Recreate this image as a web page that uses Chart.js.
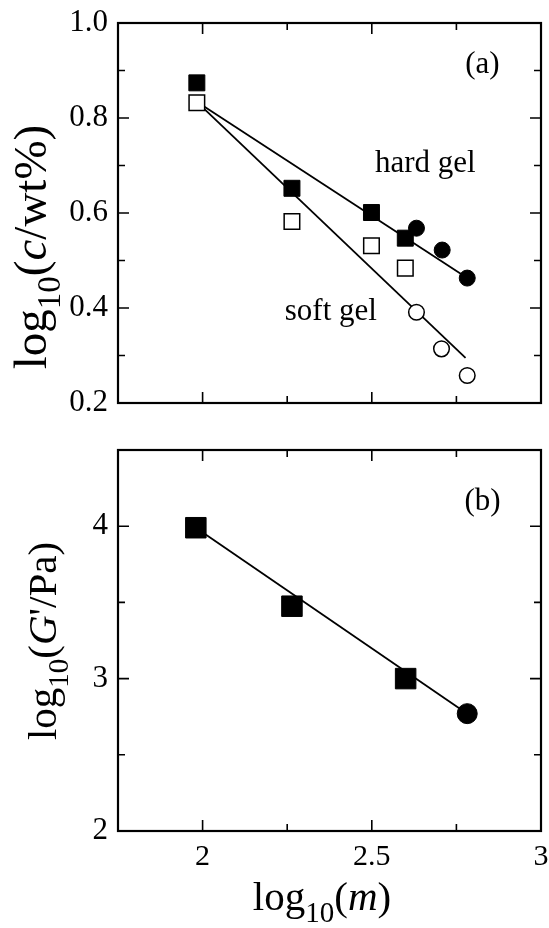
<!DOCTYPE html>
<html>
<head>
<meta charset="utf-8">
<script src="https://cdn.jsdelivr.net/npm/chart.js@4.4.0/dist/chart.umd.min.js"></script>
<style>
  html, body { margin: 0; padding: 0; background: #fff; }
  #wrap { position: relative; width: 549px; height: 928px; overflow: hidden; }
  canvas { position: absolute; left: 0; }
  #panelA { top: 0; }
  #panelB { top: 440px; }
</style>
</head>
<body>
<div id="wrap">
  <canvas id="panelA" width="549" height="440"></canvas>
  <canvas id="panelB" width="549" height="488"></canvas>
</div>
<script>
const SERIF = "'Liberation Serif', 'Times New Roman', serif"

// panel (a): log10(c/wt%) against log10(m)
const hardSquareX = [1.983, 2.264, 2.499, 2.599]
const hardSquareY = [0.874, 0.652, 0.601, 0.547]
const hardCircleX = [2.632, 2.708, 2.782]
const hardCircleY = [0.568, 0.522, 0.463]
const softSquareX = [1.983, 2.264, 2.499, 2.599]
const softSquareY = [0.832, 0.582, 0.531, 0.484]
const softCircleX = [2.632, 2.706, 2.782]
const softCircleY = [0.391, 0.314, 0.258]
const hardFitX = [1.983, 2.782]
const hardFitY = [0.834, 0.463]
const softFitX = [1.983, 2.777]
const softFitY = [0.834, 0.295]

// panel (b): log10(G'/Pa) against log10(m)
const modSquareX = [1.980, 2.264, 2.600]
const modSquareY = [3.99, 3.475, 3.00]
const modCircleX = [2.782]
const modCircleY = [2.77]
const modFitX = [1.980, 2.782]
const modFitY = [3.99, 2.77]

// ticks
const xTicks = [2, 2.25, 2.5, 2.75, 3]
const xTickLabels = ['2', '', '2.5', '', '3']
const yTicksA = [0.2, 0.3, 0.4, 0.5, 0.6, 0.7, 0.8, 0.9, 1.0]
const yTickLabelsA = ['0.2', '', '0.4', '', '0.6', '', '0.8', '', '1.0']
const yTicksB = [2, 2.5, 3, 3.5, 4, 4.5]
const yTickLabelsB = ['2', '', '3', '', '4', '']

const pts = (xs, ys) => xs.map((x, i) => ({x: x, y: ys[i]}))

function markers(xs, ys, style, r, filled) {
	return {
		data: pts(xs, ys),
		pointStyle: style,
		pointRadius: r,
		pointHoverRadius: r,
		pointBackgroundColor: filled ? '#000' : '#fff',
		pointBorderColor: '#000',
		pointBorderWidth: filled ? 1 : 1.5,
		order: 1
	}
}

function fit(xs, ys) {
	return {
		data: pts(xs, ys),
		showLine: true,
		borderColor: '#000',
		borderWidth: 1.8,
		pointRadius: 0,
		order: 2
	}
}

function drawRich(ctx, parts, cx, cy, angle) {
	ctx.save()
	ctx.translate(cx, cy)
	ctx.rotate(angle)
	ctx.textAlign = 'left'
	ctx.textBaseline = 'alphabetic'
	ctx.fillStyle = '#000'
	let total = 0
	parts.forEach(p => { ctx.font = p.font; p.w = ctx.measureText(p.text).width; total += p.w })
	let x = -total / 2
	parts.forEach(p => { ctx.font = p.font; ctx.fillText(p.text, x, p.dy || 0); x += p.w })
	ctx.restore()
}

// frame, inward ticks, notes and axis titles
const framePlugin = {
	id: 'frame',
	afterDatasetsDraw(chart, args, opts) {
		const ctx = chart.ctx
		const a = chart.chartArea
		const xs = chart.scales.x
		const ys = chart.scales.y
		ctx.save()
		ctx.strokeStyle = '#000'
		ctx.lineWidth = 1.6
		ctx.beginPath()
		xTicks.forEach((v, i) => {
			const len = xTickLabels[i] ? 11 : 7
			const px = xs.getPixelForValue(v)
			ctx.moveTo(px, a.bottom); ctx.lineTo(px, a.bottom - len)
			ctx.moveTo(px, a.top); ctx.lineTo(px, a.top + len)
		})
		opts.yTicks.forEach((v, i) => {
			const len = opts.yLabels[i] ? 11 : 7
			const py = ys.getPixelForValue(v)
			ctx.moveTo(a.left, py); ctx.lineTo(a.left + len, py)
			ctx.moveTo(a.right, py); ctx.lineTo(a.right - len, py)
		})
		ctx.stroke()
		ctx.lineWidth = 2.2
		ctx.strokeRect(a.left, a.top, a.right - a.left, a.bottom - a.top)

		ctx.fillStyle = '#000'
		ctx.font = '31px ' + SERIF
		ctx.textAlign = 'center'
		opts.notes.forEach(n => {
			ctx.textBaseline = n.middle ? 'middle' : 'alphabetic'
			ctx.fillText(n.text, xs.getPixelForValue(n.x), ys.getPixelForValue(n.y))
		})
		ctx.restore()

		opts.titles.forEach(t => drawRich(ctx, t.parts, t.x, t.y, t.angle))
	}
}

function titleParts(size, pre, ital, post) {
	const sub = Math.round(size * 0.7)
	return [
		{text: 'log', font: size + 'px ' + SERIF},
		{text: '10', font: sub + 'px ' + SERIF, dy: Math.round(size * 0.3)},
		{text: pre, font: size + 'px ' + SERIF},
		{text: ital, font: 'italic ' + size + 'px ' + SERIF},
		{text: post, font: size + 'px ' + SERIF}
	]
}

function baseOptions(pad, yMin, yMax, yT, yL, xShow) {
	return {
		responsive: false,
		animation: false,
		events: [],
		layout: { padding: pad, autoPadding: false },
		plugins: { legend: { display: false }, tooltip: { enabled: false } },
		scales: {
			x: {
				type: 'linear',
				min: 1.75,
				max: 3,
				display: xShow,
				grid: { display: false, drawTicks: false },
				border: { display: false },
				afterBuildTicks: s => { s.ticks = xTicks.map(v => ({value: v})) },
				afterFit: s => {
					s.paddingLeft = 0
					s.paddingRight = 0
					s.height = xShow ? 97 : 0
				},
				ticks: {
					display: xShow,
					autoSkip: false,
					maxRotation: 0,
					padding: 8,
					color: '#000',
					font: { family: SERIF, size: 30 },
					callback: (v, i) => xTickLabels[i]
				}
			},
			y: {
				type: 'linear',
				min: yMin,
				max: yMax,
				grid: { display: false, drawTicks: false },
				border: { display: false },
				afterBuildTicks: s => { s.ticks = yT.map(v => ({value: v})) },
				afterFit: s => {
					s.width = 118
					s.paddingTop = 0
					s.paddingBottom = 0
				},
				ticks: {
					autoSkip: false,
					padding: 10,
					color: '#000',
					font: { family: SERIF, size: 31 },
					callback: (v, i) => yL[i]
				}
			}
		}
	}
}

const optsA = baseOptions({top: 23, right: 8, bottom: 37, left: 0}, 0.2, 1.0, yTicksA, yTickLabelsA, false)
optsA.plugins.frame = {
	yTicks: yTicksA,
	yLabels: yTickLabelsA,
	notes: [
		{text: '(a)', x: 2.827, y: 0.912, middle: true},
		{text: 'hard gel', x: 2.658, y: 0.686},
		{text: 'soft gel', x: 2.379, y: 0.375}
	],
	titles: [
		{x: 46, y: 247, angle: -Math.PI / 2, parts: titleParts(47, '(', 'c', '/wt%)')}
	]
}

new Chart(document.getElementById('panelA'), {
	type: 'scatter',
	data: {
		datasets: [
			fit(hardFitX, hardFitY),
			fit(softFitX, softFitY),
			markers(hardSquareX, hardSquareY, 'rect', 11.3, true),
			markers(softSquareX, softSquareY, 'rect', 11, false),
			markers(hardCircleX, hardCircleY, 'circle', 8, true),
			markers(softCircleX, softCircleY, 'circle', 7.8, false)
		]
	},
	options: optsA,
	plugins: [framePlugin]
})

const optsB = baseOptions({top: 10, right: 8, bottom: 0, left: 0}, 2, 4.5, yTicksB, yTickLabelsB, true)
optsB.plugins.frame = {
	yTicks: yTicksB,
	yLabels: yTickLabelsB,
	notes: [
		{text: '(b)', x: 2.827, y: 4.16, middle: true}
	],
	titles: [
		{x: 56, y: 201, angle: -Math.PI / 2, parts: titleParts(41, '(', 'G', "'/Pa)")},
		{x: 322, y: 470, angle: 0, parts: titleParts(41, '(', 'm', ')')}
	]
}

new Chart(document.getElementById('panelB'), {
	type: 'scatter',
	data: {
		datasets: [
			fit(modFitX, modFitY),
			markers(modSquareX, modSquareY, 'rect', 14.5, true),
			markers(modCircleX, modCircleY, 'circle', 10, true)
		]
	},
	options: optsB,
	plugins: [framePlugin]
})
</script>
</body>
</html>
